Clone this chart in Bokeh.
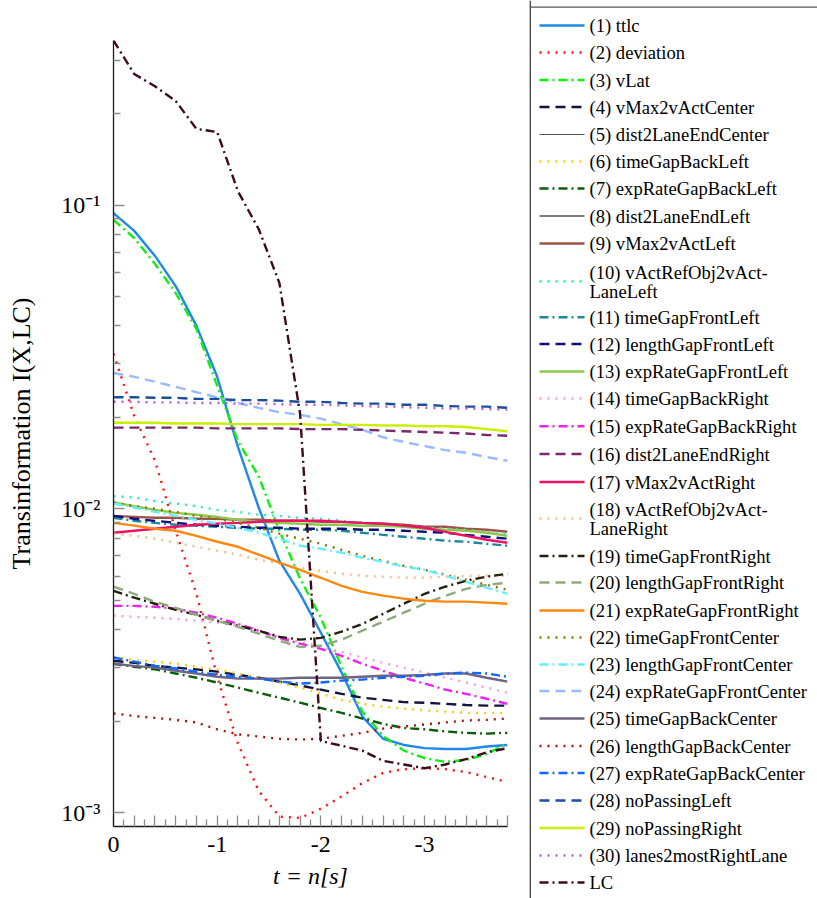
from bokeh.plotting import figure
from bokeh.models import Range1d, FixedTicker, Span, CustomJSTickFormatter
from bokeh.layouts import row
from bokeh.embed import file_html
from bokeh.resources import INLINE
from bokeh.core.properties import value

# ---------------- data ----------------
t = [0.0, -0.2, -0.4, -0.6, -0.8, -1.0, -1.2, -1.4, -1.6, -1.8,
     -2.0, -2.2, -2.4, -2.6, -2.8, -3.0, -3.2, -3.4, -3.6, -3.8]

ttlc = [0.0941, 0.0822, 0.068, 0.0541, 0.040, 0.0272, 0.016, 0.0101, 0.00674, 0.00525,
        0.00391, 0.00289, 0.00207, 0.00175, 0.00167, 0.00163, 0.00162, 0.00162, 0.00165, 0.00167]
deviation = [0.0324, 0.0202, 0.0144, 0.00847, 0.00525, 0.0028, 0.00169, 0.00118, 0.00097, 0.00096,
             0.00103, 0.00113, 0.00125, 0.00135, 0.00139, 0.0014, 0.00139, 0.00136, 0.00131, 0.00126]
vLat = [0.0893, 0.0779, 0.064, 0.0513, 0.0391, 0.0254, 0.0167, 0.0128, 0.00847, 0.00589,
        0.00438, 0.00302, 0.00215, 0.00179, 0.0016, 0.00151, 0.00147, 0.00149, 0.00156, 0.00169]
vMax2vActCenter = [0.00316, 0.00311, 0.00304, 0.003, 0.00296, 0.00291, 0.00284, 0.00278, 0.0027, 0.00262,
                   0.00254, 0.00246, 0.00239, 0.00235, 0.00231, 0.0023, 0.00228, 0.00226, 0.00225, 0.00225]
dist2LaneEndCenter = [float("nan")] * len(t)   # not visible in the reference
timeGapBackLeft = [0.00326, 0.00318, 0.00314, 0.00309, 0.00302, 0.00296, 0.00287, 0.00278, 0.00268, 0.00258,
                   0.00246, 0.00235, 0.00228, 0.00223, 0.0022, 0.00217, 0.00215, 0.00213, 0.00213, 0.00213]
expRateGapBackLeft = [0.00309, 0.00302, 0.00296, 0.00287, 0.00278, 0.00268, 0.00258, 0.00248, 0.00239, 0.0023,
                      0.00221, 0.00213, 0.00204, 0.00196, 0.0019, 0.00188, 0.00185, 0.00183, 0.00182, 0.00183]
dist2LaneEndLeft = [float("nan")] * len(t)     # not visible in the reference
vMax2vActLeft = [0.00948, 0.00941, 0.00934, 0.00934, 0.00927, 0.00927, 0.0092, 0.0092, 0.00913, 0.00913,
                 0.00906, 0.00906, 0.00899, 0.00893, 0.00886, 0.00873, 0.00873, 0.0086, 0.00853, 0.0084]
vActRefObj2vActLaneLeft = [0.011, 0.0109, 0.0106, 0.0104, 0.0102, 0.00992, 0.00977, 0.00956, 0.00948, 0.00934,
                           0.00927, 0.00913, 0.00899, 0.00893, 0.0088, 0.00866, 0.0086, 0.00853, 0.0084, 0.00828]
timeGapFrontLeft = [0.00934, 0.00913, 0.00899, 0.00886, 0.0088, 0.00873, 0.00866, 0.0086, 0.0086, 0.00853,
                    0.00853, 0.00847, 0.00834, 0.00821, 0.00809, 0.00797, 0.00785, 0.00779, 0.00767, 0.00756]
lengthGapFrontLeft = [0.00948, 0.00927, 0.00913, 0.00899, 0.00886, 0.0088, 0.00873, 0.00866, 0.00866, 0.0086,
                      0.0086, 0.0086, 0.00853, 0.00853, 0.00847, 0.0084, 0.00834, 0.00821, 0.00809, 0.00797]
expRateGapFrontLeft = [0.0105, 0.0102, 0.00992, 0.0097, 0.00956, 0.00941, 0.0092, 0.00906, 0.00899, 0.00893,
                       0.00886, 0.00886, 0.0088, 0.0088, 0.00873, 0.0086, 0.00853, 0.00847, 0.00834, 0.00815]
timeGapBackRight = [0.00445, 0.00441, 0.00438, 0.00434, 0.00428, 0.00422, 0.00412, 0.00397, 0.00379, 0.00365,
                    0.00351, 0.00338, 0.00324, 0.00311, 0.003, 0.00289, 0.00278, 0.00268, 0.00258, 0.00248]
expRateGapBackRight = [0.00479, 0.00479, 0.00476, 0.00469, 0.00455, 0.00438, 0.00418, 0.00397, 0.00376, 0.0036,
                       0.00346, 0.00328, 0.00309, 0.00293, 0.00278, 0.00266, 0.00254, 0.00246, 0.00237, 0.00228]
dist2LaneEndRight = [0.0185, 0.0185, 0.0185, 0.0185, 0.0185, 0.0184, 0.0184, 0.0184, 0.0184, 0.0183,
                     0.0183, 0.0183, 0.0182, 0.0181, 0.018, 0.0179, 0.0178, 0.0177, 0.0175, 0.0174]
vMax2vActRight = [0.00834, 0.00847, 0.0086, 0.00873, 0.00886, 0.00893, 0.00899, 0.00906, 0.00913, 0.00913,
                  0.00913, 0.00906, 0.00899, 0.00893, 0.0088, 0.00866, 0.0084, 0.00815, 0.00791, 0.00773]
vActRefObj2vActLaneRight = [0.00828, 0.00815, 0.00797, 0.00773, 0.0075, 0.00728, 0.00706, 0.0068, 0.0066, 0.0064,
                            0.00625, 0.00611, 0.00602, 0.00598, 0.00593, 0.00593, 0.00598, 0.00602, 0.00602, 0.00602]
timeGapFrontRight = [0.00537, 0.0051, 0.00487, 0.00465, 0.00448, 0.00428, 0.00412, 0.00397, 0.00379, 0.00371,
                     0.00376, 0.00394, 0.00418, 0.00451, 0.00487, 0.00525, 0.00554, 0.0058, 0.00598, 0.00611]
lengthGapFrontRight = [0.00554, 0.00525, 0.00494, 0.00472, 0.00448, 0.00428, 0.00409, 0.00388, 0.00368, 0.00351,
                       0.00354, 0.00371, 0.00397, 0.00425, 0.00455, 0.00487, 0.00517, 0.00545, 0.00562, 0.00571]
expRateGapFrontRight = [0.00899, 0.0088, 0.0086, 0.00847, 0.00815, 0.00779, 0.0075, 0.00706, 0.00665, 0.0063,
                        0.00593, 0.00558, 0.00533, 0.00518, 0.00506, 0.00498, 0.00495, 0.00495, 0.00491, 0.00487]
timeGapFrontCenter = [0.0105, 0.0102, 0.01, 0.00977, 0.00948, 0.00927, 0.00899, 0.00866, 0.00828, 0.00797,
                      0.00767, 0.00733, 0.007, 0.00674, 0.00649, 0.0063, 0.00607, 0.00584, 0.00562, 0.00541]
lengthGapFrontCenter = [0.0104, 0.0101, 0.00977, 0.00948, 0.0092, 0.00893, 0.00866, 0.00834, 0.00797, 0.00756,
                        0.00739, 0.00717, 0.0069, 0.00669, 0.00645, 0.0063, 0.00602, 0.00575, 0.0055, 0.00525]
expRateGapFrontCenter = [0.028, 0.0272, 0.0262, 0.0252, 0.0242, 0.0233, 0.0223, 0.0215, 0.0208, 0.0204,
                         0.0198, 0.019, 0.0182, 0.0172, 0.0166, 0.0161, 0.0156, 0.0153, 0.0148, 0.0144]
timeGapBackCenter = [0.00309, 0.00304, 0.003, 0.00293, 0.00287, 0.0028, 0.00276, 0.00276, 0.00276, 0.00278,
                     0.00278, 0.00278, 0.0028, 0.00282, 0.00282, 0.00284, 0.00287, 0.00287, 0.00278, 0.0027]
lengthGapBackCenter = [0.00212, 0.00208, 0.00205, 0.00202, 0.00198, 0.00188, 0.00181, 0.00178, 0.00175, 0.00174,
                       0.00175, 0.00179, 0.00183, 0.00189, 0.00192, 0.00195, 0.00198, 0.00201, 0.00202, 0.00204]
expRateGapBackCenter = [0.00324, 0.00314, 0.00304, 0.00298, 0.00291, 0.00284, 0.0028, 0.00276, 0.0027, 0.00266,
                        0.00268, 0.00272, 0.00274, 0.00278, 0.0028, 0.00282, 0.00287, 0.00289, 0.00287, 0.0028]
noPassingLeft = [0.0233, 0.0233, 0.0232, 0.0232, 0.023, 0.023, 0.0228, 0.0228, 0.0227, 0.0225,
                 0.0225, 0.0223, 0.0222, 0.0222, 0.022, 0.022, 0.0218, 0.0217, 0.0217, 0.0215]
noPassingRight = [0.0192, 0.0192, 0.0192, 0.0191, 0.0191, 0.0191, 0.019, 0.019, 0.019, 0.019,
                  0.0189, 0.0189, 0.0189, 0.0188, 0.0188, 0.0187, 0.0187, 0.0186, 0.0183, 0.018]
lanes2mostRightLane = [0.0225, 0.0225, 0.0224, 0.0224, 0.0223, 0.0223, 0.0222, 0.0222, 0.0221, 0.022,
                       0.022, 0.0219, 0.0218, 0.0217, 0.0216, 0.0215, 0.0214, 0.0214, 0.0213, 0.0212]
LC = [0.348, 0.27, 0.246, 0.22, 0.178, 0.174, 0.111, 0.0834, 0.0554, 0.0205,
      0.00172, 0.00166, 0.0016, 0.00148, 0.00144, 0.0014, 0.00144, 0.0015, 0.00158, 0.00163]

x_major_ticks = [0.0, -0.2, -0.4, -0.6, -0.8, -1.0, -1.2, -1.4, -1.6, -1.8,
                 -2.0, -2.2, -2.4, -2.6, -2.8, -3.0, -3.2, -3.4, -3.6, -3.8]
x_minor_ticks = [-0.1, -0.3, -0.5, -0.7, -0.9, -1.1, -1.3, -1.5, -1.7, -1.9,
                 -2.1, -2.3, -2.5, -2.7, -2.9, -3.1, -3.3, -3.5, -3.7]
y_major_ticks = [0.001, 0.01, 0.1]
y_minor_ticks = [0.002, 0.003, 0.004, 0.005, 0.006, 0.007, 0.008, 0.009,
                 0.02, 0.03, 0.04, 0.05, 0.06, 0.07, 0.08, 0.09, 0.2, 0.3]

# ---------------- styles ----------------
SERIF = "Liberation Serif"
DOT = "2 6"
DASH = "10 6"
DASHDOT = "9 4 2 4"
LWD = 2.4

series = [
    (["(1) ttlc"], ttlc, "#1f88e8", "solid", LWD),
    (["(2) deviation"], deviation, "#ff1010", DOT, LWD),
    (["(3) vLat"], vLat, "#10f010", DASHDOT, LWD),
    (["(4) vMax2vActCenter"], vMax2vActCenter, "#14143c", DASH, LWD),
    (["(5) dist2LaneEndCenter"], dist2LaneEndCenter, "#555555", "solid", 1.2),
    (["(6) timeGapBackLeft"], timeGapBackLeft, "#ffcc00", DOT, LWD),
    (["(7) expRateGapBackLeft"], expRateGapBackLeft, "#0b5e0b", DASHDOT, LWD),
    (["(8) dist2LaneEndLeft"], dist2LaneEndLeft, "#000000", "solid", 1.2),
    (["(9) vMax2vActLeft"], vMax2vActLeft, "#a0524a", "solid", LWD),
    (["(10) vActRefObj2vAct-", "LaneLeft"], vActRefObj2vActLaneLeft, "#22eebb", DOT, LWD),
    (["(11) timeGapFrontLeft"], timeGapFrontLeft, "#1a8a9a", DASHDOT, LWD),
    (["(12) lengthGapFrontLeft"], lengthGapFrontLeft, "#10107a", DASH, LWD),
    (["(13) expRateGapFrontLeft"], expRateGapFrontLeft, "#8cc84b", "solid", LWD),
    (["(14) timeGapBackRight"], timeGapBackRight, "#ff99dd", DOT, LWD),
    (["(15) expRateGapBackRight"], expRateGapBackRight, "#ee22ee", DASHDOT, LWD),
    (["(16) dist2LaneEndRight"], dist2LaneEndRight, "#7a2a6a", DASH, LWD),
    (["(17) vMax2vActRight"], vMax2vActRight, "#ee1166", "solid", LWD),
    (["(18) vActRefObj2vAct-", "LaneRight"], vActRefObj2vActLaneRight, "#ffbb88", DOT, LWD),
    (["(19) timeGapFrontRight"], timeGapFrontRight, "#22220f", DASHDOT, LWD),
    (["(20) lengthGapFrontRight"], lengthGapFrontRight, "#8faa7c", DASH, LWD),
    (["(21) expRateGapFrontRight"], expRateGapFrontRight, "#ff8811", "solid", LWD),
    (["(22) timeGapFrontCenter"], timeGapFrontCenter, "#887700", DOT, LWD),
    (["(23) lengthGapFrontCenter"], lengthGapFrontCenter, "#66eeff", DASHDOT, LWD),
    (["(24) expRateGapFrontCenter"], expRateGapFrontCenter, "#99bbff", DASH, LWD),
    (["(25) timeGapBackCenter"], timeGapBackCenter, "#6e6480", "solid", LWD),
    (["(26) lengthGapBackCenter"], lengthGapBackCenter, "#aa1111", DOT, LWD),
    (["(27) expRateGapBackCenter"], expRateGapBackCenter, "#1166ff", DASHDOT, LWD),
    (["(28) noPassingLeft"], noPassingLeft, "#1a4f9a", DASH, LWD),
    (["(29) noPassingRight"], noPassingRight, "#ccee00", "solid", LWD),
    (["(30) lanes2mostRightLane"], lanes2mostRightLane, "#bb55dd", DOT, LWD),
    (["LC"], LC, "#3d0a1f", DASHDOT, LWD),
]

# ---------------- main plot ----------------
p = figure(width=529, height=898, y_axis_type="log",
           x_range=Range1d(0, -3.8), y_range=Range1d(0.0009, 0.348),
           output_backend="svg", toolbar_location=None,
           min_border_left=113, min_border_right=22, min_border_top=40, min_border_bottom=72)
p.outline_line_color = None
p.grid.visible = False
p.background_fill_color = "white"
p.border_fill_color = "white"

for labels, ys, color, dash, width in series:
    p.line(t, ys, line_color=color, line_dash=dash, line_width=width)

TICK_COLOR = "#8c8c8c"
xa = p.xaxis[0]
xa.ticker = FixedTicker(ticks=x_major_ticks, minor_ticks=x_minor_ticks)
xa.formatter = CustomJSTickFormatter(code="""
    const r = Math.round(tick);
    return Math.abs(tick - r) < 1e-6 ? String(r === 0 ? 0 : r) : "";
""")
xa.major_tick_in = 11
xa.major_tick_out = 0
xa.minor_tick_in = 7
xa.minor_tick_out = 0
xa.major_tick_line_color = TICK_COLOR
xa.minor_tick_line_color = TICK_COLOR
xa.major_tick_line_width = 1.3
xa.minor_tick_line_width = 1.3
xa.axis_line_color = "#1a1a1a"
xa.axis_line_width = 1.3
xa.major_label_text_font = SERIF
xa.major_label_text_font_size = "24px"
xa.major_label_text_color = "black"
xa.major_label_standoff = 10
xa.axis_label = "t = n[s]"
xa.axis_label_text_font = SERIF
xa.axis_label_text_font_size = "24px"
xa.axis_label_text_font_style = "italic"
xa.axis_label_text_color = "black"
xa.axis_label_standoff = 8

ya = p.yaxis[0]
ya.ticker = FixedTicker(ticks=y_major_ticks, minor_ticks=y_minor_ticks)
ya.formatter = CustomJSTickFormatter(code="""
    const e = Math.round(Math.log10(tick));
    const sup = {"1": "\\u00b9", "2": "\\u00b2", "3": "\\u00b3"};
    return "10\\u207b" + sup[String(-e)];
""")
ya.major_tick_in = 11
ya.major_tick_out = 0
ya.minor_tick_in = 7
ya.minor_tick_out = 0
ya.major_tick_line_color = TICK_COLOR
ya.minor_tick_line_color = TICK_COLOR
ya.major_tick_line_width = 1.3
ya.minor_tick_line_width = 1.3
ya.axis_line_color = "#1a1a1a"
ya.axis_line_width = 1.3
ya.major_label_text_font = SERIF
ya.major_label_text_font_size = "24px"
ya.major_label_text_color = "black"
ya.major_label_standoff = 13
ya.axis_label = "Transinformation I(X,LC)"
ya.axis_label_text_font = SERIF
ya.axis_label_text_font_size = "26px"
ya.axis_label_text_font_style = "normal"
ya.axis_label_text_color = "black"
ya.axis_label_standoff = 22

# ---------------- legend panel ----------------
LW, LH = 288, 898
lg = figure(width=LW, height=LH, x_range=Range1d(0, LW), y_range=Range1d(LH, 0),
            output_backend="svg", toolbar_location=None,
            x_axis_location=None, y_axis_location=None, min_border=0)
lg.outline_line_color = None
lg.grid.visible = False
lg.background_fill_color = "white"
lg.border_fill_color = "white"
lg.add_layout(Span(location=0.6, dimension="height", line_color="#111111", line_width=1.3))
lg.add_layout(Span(location=6.7, dimension="width", line_color="#555555", line_width=1.3))

# keep each panel's own frame (no cross-plot frame alignment)
for fig in (p, lg):
    if "frame_align" in fig.properties():
        fig.frame_align = False

# row centres in page pixels
row_y = [25, 52, 79.5, 106.5, 134, 161, 188, 215.5, 243, 281, 316.7, 343.5, 371, 398, 425.7,
         453.5, 481.5, 518, 555.5, 582, 610, 637, 664, 690.5, 718, 745.5, 772.5, 800, 827.5, 855, 882]
for (labels, ys, color, dash, width), yc in zip(series, row_y):
    lg.line([10, 55], [yc, yc], line_color=color, line_dash=dash, line_width=width)
    if len(labels) == 1:
        tys = [yc]
    else:
        tys = [yc - 9.5, yc + 10]
    lg.text(x=[60] * len(labels), y=tys, text=labels,
            text_font=value(SERIF), text_font_size=value("18.6px"),
            text_baseline="middle", text_align="left", text_color="black")

layout = row(p, lg)
open("out.html", "w").write(file_html(layout, INLINE))
